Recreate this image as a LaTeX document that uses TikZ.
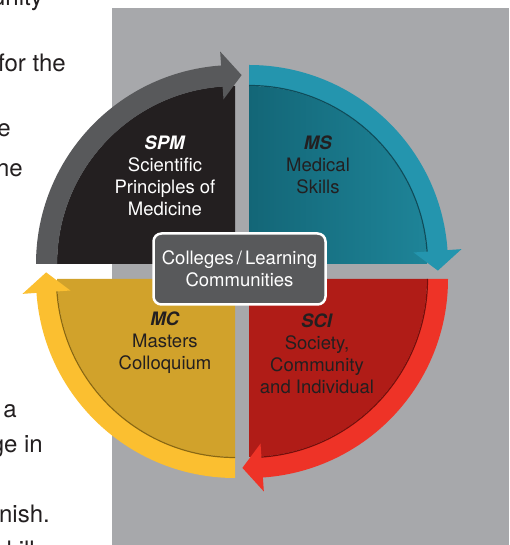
\documentclass[tikz,border=0pt]{standalone}
\usepackage{fontspec}
\setmainfont{TeX Gyre Heros}

\definecolor{bgGray}{HTML}{A7A8AB}
\definecolor{spmFill}{HTML}{231F20}
\definecolor{spmBand}{HTML}{58595B}
\definecolor{msFillL}{HTML}{136677}
\definecolor{msFillR}{HTML}{1E8498}
\definecolor{msBand}{HTML}{2495AE}
\definecolor{msEdge}{HTML}{0E4D5B}
\definecolor{sciFill}{HTML}{B01C17}
\definecolor{sciBand}{HTML}{EE3327}
\definecolor{sciEdge}{HTML}{760E0B}
\definecolor{mcFill}{HTML}{D1A22B}
\definecolor{mcBand}{HTML}{FBBF30}
\definecolor{mcEdge}{HTML}{8A6812}
\definecolor{hubGray}{HTML}{58595B}
\definecolor{inkDark}{HTML}{231F20}

% band arrow round a quadrant: corner, start angle, band colour, edge colour
\newcommand{\bandarrow}[4]{%
  \begin{scope}[shift={(#1)}]
    \fill[#3] (#2:199) arc[start angle=#2, end angle={#2-86}, radius=199]
      -- ({#2-86}:213) -- ({#2-92}:189) -- ({#2-86}:165) -- ({#2-86}:178)
      arc[start angle={#2-86}, end angle=#2, radius=178] -- cycle;
    \draw[#4, line width=1.2pt] ({#2-86}:178.5) arc[start angle={#2-86}, end angle=#2, radius=178.5];
  \end{scope}}

\tikzset{
  quadlabel/.style={align=center, font=\fontsize{18.5}{22}\selectfont},
  sidetext/.style={anchor=base east, inner sep=0pt, text=inkDark, font=\fontsize{24}{28}\selectfont},
  hubbox/.style={draw=white, line width=2.5pt, fill=hubGray, rounded corners=8pt,
    minimum width=172pt, minimum height=71pt, text=white, align=center,
    font=\fontsize{18.5}{22}\selectfont}
}

\begin{document}
\begin{tikzpicture}[x=1pt, y=1pt]
  \useasboundingbox (0,0) rectangle (509,545);
  \clip (0,0) rectangle (509,545);

  \fill[white] (0,0) rectangle (509,545);
  \fill[bgGray] (112,0) rectangle (509,537);

  \node[sidetext] (t1) at (43,539) {unity};
  \node[sidetext] (t2) at (66,473) {for the};
  \node[sidetext] (t3) at (11,408) {e};
  \node[sidetext] (t4) at (23,368) {he};
  \node[sidetext] (t5) at (17,127) {a};
  \node[sidetext] (t6) at (43,92) {ge in};
  \node[sidetext] (t7) at (50,22) {nish.};
  \node[sidetext] (t8) at (47,-13) {kills};

  \fill[spmFill] (235,281) -- ++(180:178) arc[start angle=180, end angle=90, radius=178] -- cycle;
  \shade[left color=msFillL, right color=msFillR] (249,281) -- ++(90:178) arc[start angle=90, end angle=0, radius=178] -- cycle;
  \fill[sciFill] (249,266) -- ++(0:178) arc[start angle=0, end angle=-90, radius=178] -- cycle;
  \fill[mcFill] (235,266) -- ++(270:178) arc[start angle=270, end angle=180, radius=178] -- cycle;

  \bandarrow{235,281}{180}{spmBand}{spmBand}
  \bandarrow{249,281}{90}{msBand}{msEdge}
  \bandarrow{249,266}{0}{sciBand}{sciEdge}
  \bandarrow{235,266}{270}{mcBand}{mcEdge}

  \node[quadlabel, text=white] (spm) at (165,369) {\textbf{\textit{SPM}}\\Scientific\\Principles of\\Medicine};
  \node[quadlabel, text=inkDark] (ms) at (318,380) {\textbf{\textit{MS}}\\Medical\\Skills};
  \node[quadlabel, text=inkDark] (mc) at (165,202) {\textbf{\textit{MC}}\\Masters\\Colloquium};
  \node[quadlabel, text=inkDark] (sci) at (317,191) {\textbf{\textit{SCI}}\\Society,\\Community\\and Individual};

  \node[hubbox] (hub) at (239.5,276) {Colleges\,/\,Learning\\Communities};
\end{tikzpicture}
\end{document}
